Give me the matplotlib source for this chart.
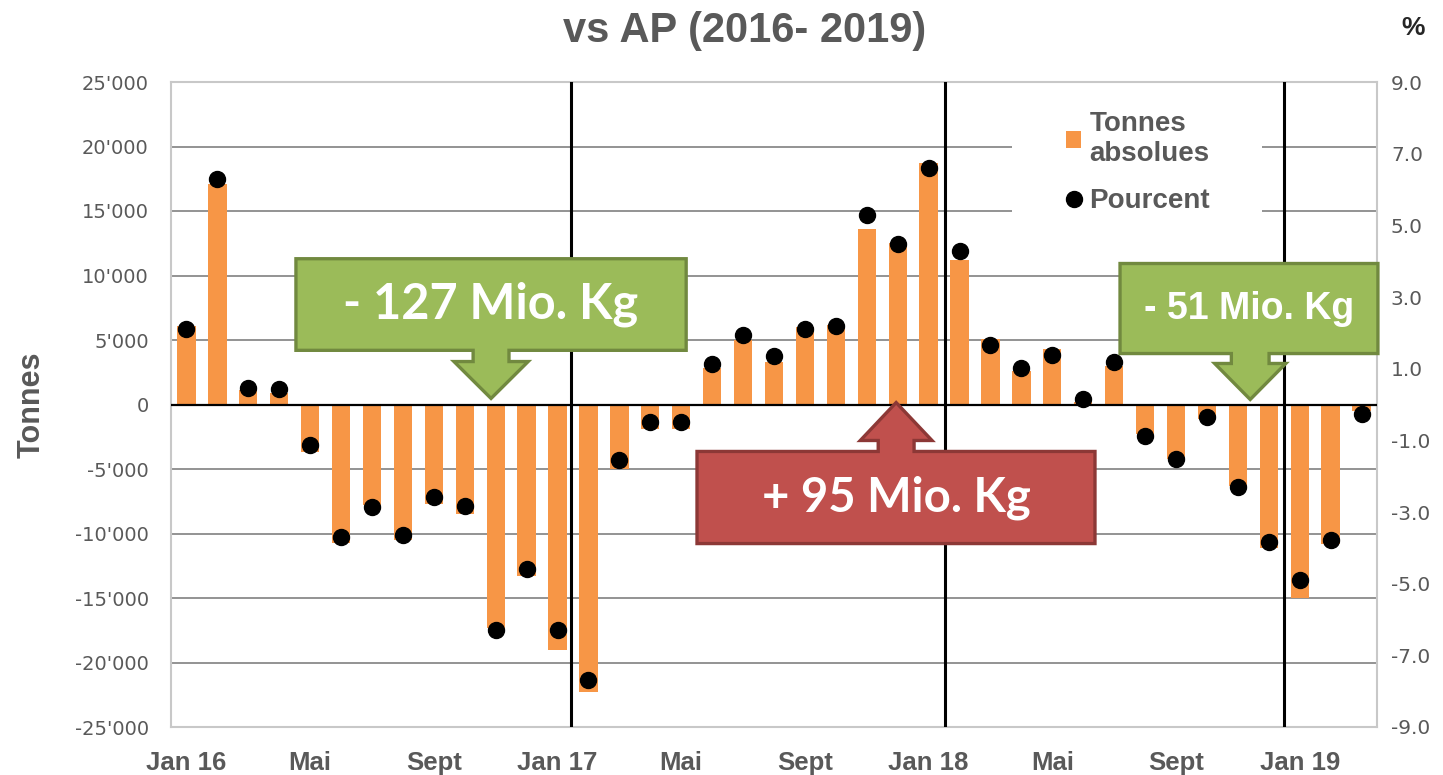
import matplotlib
matplotlib.use("Agg")
import matplotlib.pyplot as plt
from matplotlib.patches import Polygon, Rectangle
from matplotlib.ticker import FuncFormatter

# monthly difference vs previous year, Jan 2016 - Mar 2019
months = ["Jan 16", "Feb 16", "Mar 16", "Apr 16", "Mai", "Jun 16", "Jul 16", "Aug 16", "Sept", "Oct 16",
          "Nov 16", "Dec 16", "Jan 17", "Feb 17", "Mar 17", "Apr 17", "Mai", "Jun 17", "Jul 17", "Aug 17",
          "Sept", "Oct 17", "Nov 17", "Dec 17", "Jan 18", "Feb 18", "Mar 18", "Apr 18", "Mai", "Jun 18",
          "Jul 18", "Aug 18", "Sept", "Oct 18", "Nov 18", "Dec 18", "Jan 19", "Feb 19", "Mar 19"]
tonnes = [6100, 17100, 1100, 900, -3700, -10700, -7800, -10500, -7700, -8500,
          -17300, -13300, -19000, -22300, -5000, -1900, -1900, 2800, 5000, 3300,
          6000, 6200, 13600, 12500, 18700, 11200, 5100, 2600, 4300, 200,
          3000, -2300, -4200, -1100, -6300, -11100, -15000, -10800, -500]
pourcent = [2.1, 6.3, 0.47, 0.42, -1.12, -3.7, -2.87, -3.63, -2.59, -2.82,
            -6.28, -4.58, -6.28, -7.68, -1.56, -0.5, -0.5, 1.12, 1.95, 1.34,
            2.12, 2.18, 5.3, 4.49, 6.61, 4.27, 1.67, 1.03, 1.37, 0.15,
            1.2, -0.89, -1.51, -0.36, -2.3, -3.85, -4.91, -3.77, -0.26]
label_every = 4
year_breaks = [12.44, 24.53, 35.5]
left_ticks = [25000, 20000, 15000, 10000, 5000, 0, -5000, -10000, -15000, -20000, -25000]
right_ticks = [9, 7, 5, 3, 1, -1, -3, -5, -7, -9]

ORANGE = "#F79646"
GREY = "#595959"

fig = plt.figure(figsize=(14.43, 7.75), dpi=100)
ax = fig.add_axes([171 / 1443, 1 - 727 / 775, 1206 / 1443, 645 / 775])
ax2 = ax.twinx()

x = list(range(len(months)))
bars = ax.bar(x, tonnes, width=0.59, color=ORANGE, zorder=2, label="Tonnes\nabsolues")
ax.set_xlim(-0.5, len(months) - 0.5)
ax.set_ylim(-25000, 25000)
ax.set_yticks(left_ticks)
ax.yaxis.set_major_formatter(FuncFormatter(lambda v, p: f"{int(v):,}".replace(",", "'")))
for t in left_ticks[1:-1]:
    ax.axhline(t, color="#8A8A8A", lw=1.3, zorder=0)
ax.axhline(0, color="black", lw=1.6, zorder=3)
for xb in year_breaks:
    ax.axvline(xb, color="black", lw=2.2, zorder=3)
# white area behind the legend (it interrupts the gridlines)
ax.add_patch(Rectangle((0.697, 0.758), 0.208, 0.23, transform=ax.transAxes,
                       facecolor="white", edgecolor="none", zorder=1))

ax.set_xticks(x[::label_every])
ax.set_xticklabels(months[::label_every], fontsize=18.5, fontweight="bold", color=GREY,
                   family="Liberation Sans")
ax.tick_params(axis="x", length=0, pad=17)
ax.tick_params(axis="y", length=0, pad=16, labelsize=14, labelcolor=GREY)
for lab in ax.get_yticklabels():
    lab.set_family("DejaVu Sans")
ax.set_ylabel("Tonnes", fontsize=22, fontweight="bold", color=GREY, family="Liberation Sans",
              labelpad=20)
for s in ax.spines.values():
    s.set_color("#C8C8C8")
    s.set_linewidth(1.5)

dots, = ax2.plot(x, pourcent, "o", color="black", markersize=11.5, zorder=5, label="Pourcent")
ax2.set_ylim(-9, 9)
ax2.set_yticks(right_ticks)
ax2.yaxis.set_major_formatter(FuncFormatter(lambda v, p: f"{v:.1f}"))
ax2.tick_params(axis="y", length=0, pad=10, labelsize=14.5, labelcolor=GREY)
for lab in ax2.get_yticklabels():
    lab.set_family("DejaVu Sans")
for s in ax2.spines.values():
    s.set_visible(False)

leg = ax2.legend(handles=[bars, dots], loc="upper left", bbox_to_anchor=(1041 / 1443, 1 - 86 / 775),
                 bbox_transform=fig.transFigure, frameon=False,
                 handlelength=0.55, handleheight=0.55, handletextpad=0.3, labelspacing=0.75,
                 borderpad=0.4, prop={"family": "Liberation Sans", "weight": "bold", "size": 20})
for t in leg.get_texts():
    t.set_color(GREY)
leg.set_zorder(4)


def callout(x0, x1, ytop, ybot, cx, sw, hw, yhead, ytip, face, edge):
    pts = [(x0, ytop), (x1, ytop), (x1, ybot), (x0, ybot)]
    if ytip < ybot:  # arrow down from box bottom
        arrow = [(cx + sw, ybot), (cx + sw, yhead), (cx + hw, yhead), (cx, ytip),
                 (cx - hw, yhead), (cx - sw, yhead), (cx - sw, ybot)]
        pts = pts[:3] + arrow + pts[3:]
    else:  # arrow up from box top
        arrow = [(cx - sw, ytop), (cx - sw, yhead), (cx - hw, yhead), (cx, ytip),
                 (cx + hw, yhead), (cx + sw, yhead), (cx + sw, ytop)]
        pts = pts[:1] + arrow + pts[1:]
    ax2.add_patch(Polygon(pts, closed=True, facecolor=face, edgecolor=edge, lw=2.4,
                          transform=ax.transData, zorder=6, clip_on=False))


callout(3.54, 16.16, 11300, 4200, 9.85, 0.58, 1.2, 3330, 470, "#9BBB59", "#71893F")
ax2.text(9.85, 7750, "- 127 Mio. Kg", transform=ax.transData, ha="center", va="center",
         fontsize=35, fontweight="bold", color="white", family="Lato", zorder=7)

callout(16.51, 29.38, -3640, -10780, 22.95, 0.58, 1.16, -2790, 150, "#C0504D", "#8C3836")
ax2.text(22.95, -7210, "+ 95 Mio. Kg", transform=ax.transData, ha="center", va="center",
         fontsize=34, fontweight="bold", color="white", family="Lato", zorder=7)

callout(30.19, 38.53, 10930, 3950, 34.4, 0.61, 1.15, 3180, 390, "#9BBB59", "#71893F")
ax2.text(34.37, 7440, "- 51 Mio. Kg", transform=ax.transData, ha="center", va="center",
         fontsize=27, fontweight="bold", color="white", family="Liberation Sans", zorder=7)

fig.text(745 / 1443, 1 - 31 / 775, "vs AP (2016- 2019)", ha="center", va="center",
         fontsize=30, fontweight="bold", color=GREY, family="Liberation Sans")
fig.text(1413 / 1443, 1 - 28 / 775, "%", ha="center", va="center",
         fontsize=19, fontweight="bold", color="#262626", family="Liberation Sans")

fig.savefig("out.png", dpi=100)
